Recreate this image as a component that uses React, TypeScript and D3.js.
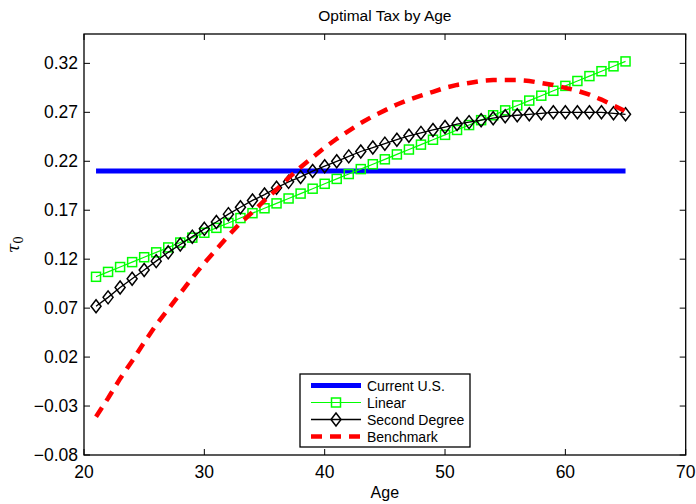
import React from "react";
import * as d3 from "d3";

// ages 21..65
const ages = d3.range(21, 66);

const currentUS = ages.map(() => 0.21);

const linear = [
  0.102, 0.107, 0.112, 0.117, 0.122, 0.127, 0.132, 0.137, 0.142, 0.147,
  0.152, 0.157, 0.162, 0.167, 0.172, 0.177, 0.182, 0.187, 0.192, 0.197,
  0.202, 0.207, 0.212, 0.217, 0.222, 0.227, 0.232, 0.237, 0.242, 0.247,
  0.252, 0.257, 0.262, 0.267, 0.272, 0.277, 0.282, 0.287, 0.292, 0.297,
  0.302, 0.307, 0.312, 0.317, 0.322,
];

const secondDegree = [
  0.072, 0.081, 0.091, 0.1, 0.109, 0.118, 0.127, 0.135, 0.143, 0.151,
  0.158, 0.166, 0.173, 0.18, 0.186, 0.193, 0.199, 0.204, 0.21, 0.215,
  0.22, 0.225, 0.23, 0.234, 0.238, 0.242, 0.246, 0.249, 0.252, 0.255,
  0.258, 0.26, 0.262, 0.264, 0.266, 0.267, 0.268, 0.269, 0.27, 0.27,
  0.27, 0.27, 0.27, 0.269, 0.268,
];

const benchmark = [
  -0.041, -0.022, -0.002, 0.016, 0.035, 0.053, 0.069, 0.085, 0.101, 0.116,
  0.13, 0.144, 0.157, 0.168, 0.18, 0.191, 0.203, 0.214, 0.224, 0.234,
  0.243, 0.251, 0.259, 0.266, 0.272, 0.278, 0.283, 0.287, 0.291, 0.295,
  0.298, 0.3, 0.302, 0.303, 0.303, 0.303, 0.302, 0.3, 0.298, 0.295,
  0.292, 0.288, 0.283, 0.277, 0.271,
];

const xTicks = [20, 30, 40, 50, 60, 70];
const yTicks = [-0.08, -0.03, 0.02, 0.07, 0.12, 0.17, 0.22, 0.27, 0.32];
const yTickLabels = ["\u22120.08", "\u22120.03", "0.02", "0.07", "0.12", "0.17", "0.22", "0.27", "0.32"];
const legendNames = ["Current U.S.", "Linear", "Second Degree", "Benchmark"];

const W = 696;
const H = 504;
const margin = { left: 84, right: 10.3, top: 34, bottom: 49 };
const font = "'Liberation Sans', Arial, Helvetica, sans-serif";

export default function App() {
  const x = d3.scaleLinear().domain([20, 70]).range([margin.left, W - margin.right]);
  const y = d3.scaleLinear().domain([-0.08, 0.35]).range([H - margin.bottom, margin.top]);

  const line = d3
    .line<number>()
    .x((_, i) => x(ages[i]))
    .y((d) => y(d));

  const x0 = margin.left;
  const x1 = W - margin.right;
  const y0 = margin.top;
  const y1 = H - margin.bottom;
  const tick = 6;

  const square = (cx: number, cy: number, k: string) => (
    <rect key={k} x={cx - 4.5} y={cy - 4.5} width={9} height={9} fill="none" stroke="#00ff00" strokeWidth={1.5} />
  );
  const diamond = (cx: number, cy: number, k: string) => (
    <path
      key={k}
      d={`M${cx},${cy - 6.5}L${cx + 5},${cy}L${cx},${cy + 6.5}L${cx - 5},${cy}Z`}
      fill="none"
      stroke="#000"
      strokeWidth={1.5}
    />
  );

  // legend
  const lg = { x: 300, y: 374, w: 170, h: 73 };
  const rowY = (i: number) => 385.5 + i * 17;
  const ls0 = 311;
  const ls1 = 361;
  const lmid = (ls0 + ls1) / 2;

  return (
    <svg width={W} height={H} style={{ position: "absolute", left: 0, top: 0, background: "#fff" }}>
      <rect x={0} y={0} width={W} height={H} fill="#fff" />

      {/* series */}
      <path d={line(currentUS) || ""} fill="none" stroke="#0000ff" strokeWidth={5} />
      <path d={line(linear) || ""} fill="none" stroke="#00ff00" strokeWidth={1.2} />
      {linear.map((v, i) => square(x(ages[i]), y(v), `s${i}`))}
      <path d={line(secondDegree) || ""} fill="none" stroke="#000" strokeWidth={1.3} />
      {secondDegree.map((v, i) => diamond(x(ages[i]), y(v), `d${i}`))}
      <path d={line(benchmark) || ""} fill="none" stroke="#ff0000" strokeWidth={4.5} strokeDasharray="11,8" />

      {/* box and ticks */}
      <rect x={x0} y={y0} width={x1 - x0} height={y1 - y0} fill="none" stroke="#000" strokeWidth={1.3} />
      {xTicks.map((t) => (
        <g key={`xt${t}`}>
          <line x1={x(t)} x2={x(t)} y1={y1} y2={y1 - tick} stroke="#000" strokeWidth={1} />
          <line x1={x(t)} x2={x(t)} y1={y0} y2={y0 + tick} stroke="#000" strokeWidth={1} />
          <text x={x(t)} y={477.5} textAnchor="middle" fontFamily={font} fontSize={17.5}>
            {t}
          </text>
        </g>
      ))}
      {yTicks.map((t, i) => (
        <g key={`yt${i}`}>
          <line x1={x0} x2={x0 + tick} y1={y(t)} y2={y(t)} stroke="#000" strokeWidth={1} />
          <line x1={x1} x2={x1 - tick} y1={y(t)} y2={y(t)} stroke="#000" strokeWidth={1} />
          <text x={78} y={y(t) + 6} textAnchor="end" fontFamily={font} fontSize={17.5}>
            {yTickLabels[i]}
          </text>
        </g>
      ))}

      {/* labels */}
      <text x={(x0 + x1) / 2} y={21} textAnchor="middle" fontFamily={font} fontSize={15.5}>
        Optimal Tax by Age
      </text>
      <text x={(x0 + x1) / 2} y={498} textAnchor="middle" fontFamily={font} fontSize={16}>
        Age
      </text>
      <text
        transform={`translate(19,${(y0 + y1) / 2}) rotate(-90)`}
        textAnchor="middle"
        fontFamily="'DejaVu Serif', 'Liberation Serif', serif"
        fontSize={17}
      >
        <tspan fontStyle="italic">τ</tspan>
        <tspan fontSize={12} dy={4}>0</tspan>
      </text>

      {/* legend */}
      <rect x={lg.x} y={lg.y} width={lg.w} height={lg.h} fill="#fff" stroke="#000" strokeWidth={1.3} />
      <line x1={ls0} x2={ls1} y1={rowY(0)} y2={rowY(0)} stroke="#0000ff" strokeWidth={5} />
      <line x1={ls0} x2={ls1} y1={rowY(1)} y2={rowY(1)} stroke="#00ff00" strokeWidth={1.2} />
      {square(lmid, rowY(1), "ls")}
      <line x1={ls0} x2={ls1} y1={rowY(2)} y2={rowY(2)} stroke="#000" strokeWidth={1.3} />
      {diamond(lmid, rowY(2), "ld")}
      <line x1={ls0} x2={ls1} y1={rowY(3)} y2={rowY(3)} stroke="#ff0000" strokeWidth={4.5} strokeDasharray="11,8" />
      {legendNames.map((n, i) => (
        <text key={n} x={367} y={rowY(i) + 5} fontFamily={font} fontSize={14}>
          {n}
        </text>
      ))}
    </svg>
  );
}
